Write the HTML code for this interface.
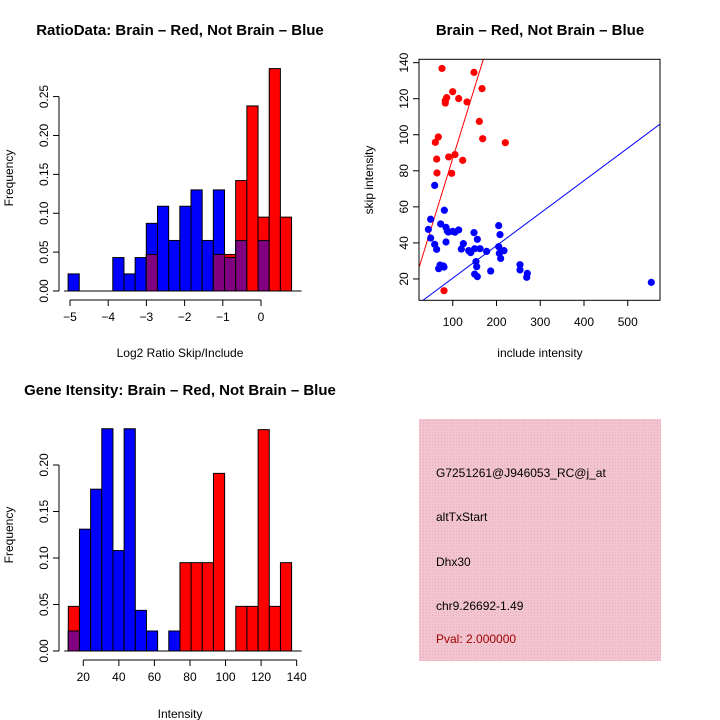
<!DOCTYPE html>
<html><head><meta charset="utf-8"><style>
html,body{margin:0;padding:0;background:#fff}
svg{display:block;font-family:"Liberation Sans",sans-serif}
</style></head><body>
<svg id="svg" width="720" height="720" viewBox="0 0 720 720">
<rect x="0" y="0" width="720" height="720" fill="#fff"/>
<text x="180" y="35" font-size="15" font-weight="bold" text-anchor="middle">RatioData: Brain – Red, Not Brain – Blue</text>
<text x="180" y="357" font-size="12" text-anchor="middle">Log2 Ratio Skip/Include</text>
<text transform="translate(13,178) rotate(-90)" font-size="12" text-anchor="middle">Frequency</text>
<text x="540" y="35" font-size="15" font-weight="bold" text-anchor="middle">Brain – Red, Not Brain – Blue</text>
<text x="540" y="357" font-size="12" text-anchor="middle">include intensity</text>
<text transform="translate(373,180) rotate(-90)" font-size="12" text-anchor="middle">skip intensity</text>
<text x="180" y="395" font-size="15" font-weight="bold" text-anchor="middle">Gene Itensity: Brain – Red, Not Brain – Blue</text>
<text x="180" y="718" font-size="12" text-anchor="middle">Intensity</text>
<text transform="translate(13,535) rotate(-90)" font-size="12" text-anchor="middle">Frequency</text>
<g>
<defs><pattern id="hatch" width="3" height="3" patternUnits="userSpaceOnUse"><rect width="3" height="3" fill="#f2c4cf"/><rect width="1" height="1" fill="#e8aebd"/></pattern></defs>
<rect x="419" y="419" width="242" height="242" fill="url(#hatch)"/>
<text x="436" y="477" font-size="12">G7251261@J946053_RC@j_at</text>
<text x="436" y="521" font-size="12">altTxStart</text>
<text x="436" y="566" font-size="12">Dhx30</text>
<text x="436" y="610" font-size="12">chr9.26692-1.49</text>
<text x="436" y="643" font-size="12" fill="#a00000">Pval: 2.000000</text>
</g>
</svg>
<script>
// ---- ratio histogram data ----
const ratioBinStart = -5.05;
const ratioBinWidth = 0.2925;
const ratioBlue = [0.022,0,0,0,0.043,0.022,0.043,0.087,0.109,0.065,0.109,0.130,0.065,0.130,0.043,0.065,0,0.065,0,0];
const ratioRed  = [0,0,0,0,0,0,0,0.047,0,0,0,0,0,0.047,0.047,0.142,0.238,0.095,0.286,0.095];
const ratioXTicks = [-5,-4,-3,-2,-1,0];
const ratioYTicks = [0,0.05,0.10,0.15,0.20,0.25];
const ratioYLabels = ["0.00","0.05","0.10","0.15","0.20","0.25"];
// ---- gene histogram data ----
const geneBinStart = 11.56;
const geneBinWidth = 6.28;
const geneBlue = [0.0215,0.131,0.174,0.239,0.108,0.239,0.0437,0.0215,0,0.0215,0,0,0,0,0,0,0,0,0,0];
const geneRed  = [0.048,0,0,0,0,0,0,0,0,0,0.095,0.095,0.095,0.191,0,0.048,0.048,0.238,0.048,0.095];
const geneXTicks = [20,40,60,80,100,120,140];
const geneYTicks = [0,0.05,0.10,0.15,0.20];
const geneYLabels = ["0.00","0.05","0.10","0.15","0.20"];
// ---- scatter data ----
const brainX = [75.4,148.6,166.9,99.8,86.1,83,83,113.5,132.6,160.8,168.4,220.2,60.2,67,63.2,90.7,105.1,122.7,64,97.5,80];
const brainY = [136.8,134.6,125.6,123.9,120.6,118.9,117.6,120.1,118.2,107.4,97.8,95.6,95.8,98.8,86.5,87.7,89,85.8,78.8,78.6,13.5];
const otherX = [58.7,49.5,80.8,44.2,49.5,58.7,63.2,72.4,84.6,87.6,99.8,113.5,84.6,70.9,78.5,67.8,80,119.6,124.2,136.4,141,148.6,156.2,150.1,162.3,177.5,153.1,154.7,150.1,156.2,186.7,205,208,205,206.5,209.5,217.1,253.7,253.7,270.5,269,553.9,89.9,105];
const otherY = [71.9,53.1,58.1,47.5,42.7,39.2,36.4,50.5,48.6,46.6,46.4,47.2,40.5,27.7,27.2,25.7,26.6,36.6,39.6,35.7,34.6,45.7,42,36.8,36.8,35.3,29.6,26.8,22.7,21.3,24.4,49.6,44.6,37.9,34.2,31.4,35.7,27.9,25,23.1,20.9,18.1,46,45.9];
const lineIntercepts = [8.3,2.4];
const lineSlopes = [0.786,0.1804];
const lineColors = ["#ff0000","#0000ff"];
const scatterXTicks = [100,200,300,400,500];
const scatterYTicks = [20,40,60,80,100,120,140];

const svg = document.getElementById('svg');
const NS = 'http://www.w3.org/2000/svg';
function mk(tag, attrs, parent){const e=document.createElementNS(NS,tag);for(const k in attrs)e.setAttribute(k,attrs[k]);(parent||svg).appendChild(e);return e;}

function histogram(name, binStart, binW, blue, red, xTicks, yTicks, yLabels, sx, sy, axisX, tickY){
  const g = mk('g',{});
  
  
  const y0 = sy(0);
  for(let i=0;i<blue.length;i++){
    const xl = sx(binStart+i*binW), xr = sx(binStart+(i+1)*binW);
    const b = blue[i], r = red[i];
    if(b>0){const rc=mk('rect',{x:xl,y:sy(b),width:xr-xl,height:y0-sy(b),fill:'#0000ff',stroke:'#000','stroke-width':1},g);
      
      }
    if(r>0){const rc=mk('rect',{x:xl,y:sy(r),width:xr-xl,height:y0-sy(r),fill:'#ff0000',stroke:'#000','stroke-width':1},g);
      
      }
    if(b>0&&r>0){const m=Math.min(b,r);const rc=mk('rect',{x:xl,y:sy(m),width:xr-xl,height:y0-sy(m),fill:'#800080',stroke:'#000','stroke-width':1},g);
      
      }
  }
  const xEnd = sx(binStart+blue.length*binW);
  mk('line',{x1:sx(binStart)-4,x2:xEnd+10,y1:y0,y2:y0,stroke:'#000','stroke-width':1},g);
  mk('line',{x1:sx(xTicks[0]),x2:sx(xTicks[xTicks.length-1]),y1:tickY,y2:tickY,stroke:'#000'},g);
  xTicks.forEach(t=>{mk('line',{x1:sx(t),x2:sx(t),y1:tickY,y2:tickY+6,stroke:'#000'},g);
    const tx=mk('text',{x:sx(t),y:tickY+21,'font-size':12,'text-anchor':'middle'},g);tx.textContent=String(t).replace('-','\u2212');
    
    });
  mk('line',{x1:axisX,x2:axisX,y1:sy(yTicks[0]),y2:sy(yTicks[yTicks.length-1]),stroke:'#000'},g);
  yTicks.forEach((t,i)=>{mk('line',{x1:axisX-6,x2:axisX,y1:sy(t),y2:sy(t),stroke:'#000'},g);
    const tx=mk('text',{transform:`translate(${axisX-11},${sy(t)}) rotate(-90)`,'font-size':12,'text-anchor':'middle'},g);tx.textContent=yLabels[i];
    
    });
}
histogram('ratio-histogram', ratioBinStart, ratioBinWidth, ratioBlue, ratioRed, ratioXTicks, ratioYTicks, ratioYLabels,
  v=>261+v*38.2, v=>291-v*777.6, 59, 300);
histogram('gene-histogram', geneBinStart, geneBinWidth, geneBlue, geneRed, geneXTicks, geneYTicks, geneYLabels,
  v=>83.3+(v-20)*1.778, v=>651-v*930, 59, 660);

const sx = v=>409+v*0.4375, sy = v=>315-v*1.8025;
const sg = mk('g',{});


const clip = mk('clipPath',{id:'sclip'});
mk('rect',{x:419,y:59.3,width:241,height:241},clip);
const lg = mk('g',{'clip-path':'url(#sclip)'},sg);
lineIntercepts.forEach((a,i)=>{const b=lineSlopes[i];
  const l=mk('line',{x1:sx(0),y1:sy(a),x2:sx(700),y2:sy(a+b*700),stroke:lineColors[i],'stroke-width':1},lg);
  
  });
brainX.forEach((x,i)=>{const c=mk('circle',{cx:sx(x),cy:sy(brainY[i]),r:3.6,fill:'#ff0000'},lg);
  
  });
otherX.forEach((x,i)=>{const c=mk('circle',{cx:sx(x),cy:sy(otherY[i]),r:3.6,fill:'#0000ff'},lg);
  
  });
mk('rect',{x:419,y:59.3,width:241,height:241,fill:'none',stroke:'#000','stroke-width':1},sg);
scatterXTicks.forEach(t=>{mk('line',{x1:sx(t),x2:sx(t),y1:300,y2:306,stroke:'#000'},sg);
  const tx=mk('text',{x:sx(t),y:326,'font-size':12,'text-anchor':'middle'},sg);tx.textContent=t;
  
  });
scatterYTicks.forEach(t=>{mk('line',{x1:413,x2:419,y1:sy(t),y2:sy(t),stroke:'#000'},sg);
  const tx=mk('text',{transform:`translate(408,${sy(t)}) rotate(-90)`,'font-size':12,'text-anchor':'middle'},sg);tx.textContent=t;
  
  });
</script>
</body></html>
